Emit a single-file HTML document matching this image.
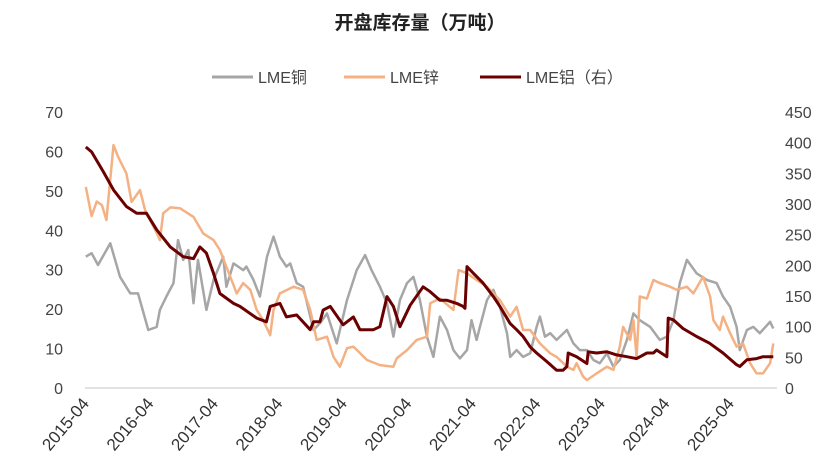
<!DOCTYPE html>
<html><head><meta charset="utf-8"><style>
body{margin:0;background:#fff;}
svg{display:block;font-family:"Liberation Sans","Noto Sans CJK SC",sans-serif;}
</style></head><body>
<svg id="chart" width="839" height="475" viewBox="0 0 839 475">
<text x="420" y="29" text-anchor="middle" font-size="19" font-weight="bold" fill="#222">开盘库存量（万吨）</text>
<g font-size="16" fill="#444">
<g><line x1="212" y1="77" x2="253" y2="77" stroke="#a6a6a6" stroke-width="3"/><text x="258" y="83">LME铜</text></g>
<g><line x1="344" y1="77" x2="385" y2="77" stroke="#f4b183" stroke-width="3"/><text x="390" y="83">LME锌</text></g>
<g><line x1="480" y1="77" x2="521" y2="77" stroke="#6b0000" stroke-width="3"/><text x="526" y="83">LME铝（右）</text></g>
</g>
<line x1="85" y1="388" x2="777" y2="388" stroke="#d9d9d9" stroke-width="1.5"/>
<g id="yl"></g>
<g id="yr"></g>
<g id="xl"></g>
<g id="series"></g>
</svg>
<script>
const leftTicks=[0,10,20,30,40,50,60,70];
const rightTicks=[0,50,100,150,200,250,300,350,400,450];
const xTickLabels=["2015-04","2016-04","2017-04","2018-04","2019-04","2020-04","2021-04","2022-04","2023-04","2024-04","2025-04"];
const xTickYears=[2015.25,2016.25,2017.25,2018.25,2019.25,2020.25,2021.25,2022.25,2023.25,2024.25,2025.25];

const copperT=[2015.20,2015.29,2015.39,2015.58,2015.73,2015.89,2016.01,2016.17,2016.30,2016.35,2016.45,2016.56,2016.63,2016.71,2016.79,2016.87,2016.94,2017.07,2017.18,2017.33,2017.38,2017.49,2017.64,2017.69,2017.80,2017.90,2018.01,2018.11,2018.21,2018.31,2018.37,2018.47,2018.57,2018.73,2018.83,2018.94,2019.09,2019.25,2019.40,2019.53,2019.63,2019.76,2019.87,2019.97,2020.07,2020.18,2020.28,2020.38,2020.49,2020.59,2020.69,2020.80,2020.90,2021.00,2021.11,2021.18,2021.26,2021.31,2021.42,2021.52,2021.62,2021.73,2021.78,2021.88,2021.98,2022.09,2022.19,2022.24,2022.32,2022.40,2022.50,2022.66,2022.76,2022.86,2022.97,2023.07,2023.17,2023.28,2023.38,2023.48,2023.59,2023.69,2023.79,2023.95,2024.10,2024.21,2024.31,2024.41,2024.52,2024.67,2024.83,2024.98,2025.08,2025.19,2025.29,2025.34,2025.45,2025.55,2025.65,2025.81,2025.86];
const copperV=[33.3,34.2,31.2,36.7,28.2,24.0,24.0,14.7,15.5,19.8,23.2,26.6,37.5,32.5,35.0,21.5,32.5,19.8,27.4,33.3,25.7,31.6,29.9,30.8,27.4,23.2,33.3,38.4,33.3,30.8,31.6,26.6,25.7,14.7,16.4,18.9,11.3,22.3,29.9,33.7,29.9,25.7,21.5,13.0,22.3,26.6,28.2,22.3,13.0,7.9,18.1,14.7,9.6,7.5,9.6,17.2,12.2,15.5,22.3,24.9,20.6,13.9,7.9,9.6,7.9,8.8,15.5,18.1,13.0,13.9,12.2,14.7,11.3,9.6,9.6,7.1,6.3,8.8,5.4,7.1,12.2,18.9,17.2,15.5,12.2,13.0,17.2,26.6,32.5,29.1,27.4,26.6,23.2,20.6,15.5,9.6,14.7,15.5,13.9,16.8,15.1];

const zincT=[2015.20,2015.29,2015.37,2015.45,2015.52,2015.63,2015.70,2015.83,2015.91,2016.04,2016.12,2016.30,2016.35,2016.40,2016.51,2016.66,2016.87,2017.02,2017.18,2017.28,2017.44,2017.54,2017.64,2017.75,2017.85,2017.95,2018.06,2018.11,2018.21,2018.42,2018.57,2018.68,2018.78,2018.94,2019.04,2019.14,2019.25,2019.35,2019.56,2019.76,2019.97,2020.02,2020.18,2020.33,2020.49,2020.54,2020.69,2020.90,2020.98,2021.11,2021.26,2021.42,2021.62,2021.78,2021.88,2021.98,2022.09,2022.24,2022.40,2022.50,2022.66,2022.76,2022.81,2022.91,2022.97,2023.12,2023.28,2023.38,2023.48,2023.53,2023.64,2023.69,2023.74,2023.79,2023.90,2024.00,2024.10,2024.26,2024.36,2024.52,2024.62,2024.77,2024.88,2024.93,2025.03,2025.08,2025.19,2025.29,2025.39,2025.50,2025.60,2025.70,2025.81,2025.86];
const zincV=[51.0,43.6,47.3,46.4,42.6,61.6,58.7,54.4,47.2,50.2,45.1,39.3,37.5,44.3,45.8,45.6,43.4,39.2,37.5,35.0,28.2,24.0,26.6,24.9,19.8,17.2,13.4,19.8,24.0,25.7,24.9,19.8,12.2,13.0,7.9,5.4,10.1,10.5,7.1,5.8,5.4,7.5,9.6,12.2,13.0,21.5,22.7,19.8,29.9,29.1,27.4,25.7,22.3,18.1,20.6,14.7,14.7,11.3,8.8,7.9,5.4,4.6,6.3,2.9,2.0,3.7,5.4,4.6,10.5,15.5,12.2,17.2,7.9,23.2,22.7,27.4,26.6,25.7,24.9,25.7,24.0,28.2,23.2,17.2,14.7,18.1,13.9,10.5,11.3,6.3,3.7,3.7,6.3,11.3];

const aluT=[2015.20,2015.29,2015.47,2015.63,2015.83,2015.99,2016.14,2016.30,2016.51,2016.71,2016.87,2016.97,2017.07,2017.18,2017.28,2017.49,2017.59,2017.85,2018.00,2018.06,2018.21,2018.31,2018.47,2018.68,2018.73,2018.83,2018.88,2018.99,2019.19,2019.35,2019.45,2019.66,2019.76,2019.87,2019.97,2020.07,2020.23,2020.43,2020.54,2020.69,2020.80,2020.95,2021.05,2021.08,2021.11,2021.21,2021.36,2021.52,2021.62,2021.78,2021.88,2021.98,2022.09,2022.19,2022.35,2022.50,2022.60,2022.66,2022.68,2022.81,2022.97,2022.99,2023.12,2023.28,2023.43,2023.59,2023.74,2023.90,2024.00,2024.05,2024.21,2024.23,2024.31,2024.46,2024.67,2024.87,2025.08,2025.29,2025.34,2025.45,2025.60,2025.70,2025.86];
const aluV=[393,385,353,323,296,285,285,258,230,214,211,230,220,187,154,138,133,114,108,133,138,116,119,95,108,108,127,133,103,116,95,95,100,149,133,100,135,165,157,143,143,138,133,130,198,187,171,149,133,105,95,84,67,57,43,29,29,35,57,51,40,59,57,59,54,51,48,57,57,62,51,114,111,97,84,73,57,38,35,46,48,51,51];

const X0=89, PX_PER_YEAR=64.5, Y0=388;
const xs=t=>X0+PX_PER_YEAR*(t-2015.25);
const yL=v=>Y0-v*(276/70);
const yR=v=>Y0-v*(276/450);
const NS="http://www.w3.org/2000/svg";

const gl=document.getElementById('yl');
leftTicks.forEach(v=>{const t=document.createElementNS(NS,'text');


t.setAttribute('x',63);t.setAttribute('y',yL(v)+6);t.setAttribute('text-anchor','end');t.setAttribute('font-size','16');t.setAttribute('fill','#444');t.textContent=v;gl.appendChild(t);});
const gr=document.getElementById('yr');
rightTicks.forEach(v=>{const t=document.createElementNS(NS,'text');


t.setAttribute('x',785);t.setAttribute('y',yR(v)+6);t.setAttribute('font-size','16');t.setAttribute('fill','#444');t.textContent=v;gr.appendChild(t);});
const gx=document.getElementById('xl');
xTickLabels.forEach((lab,i)=>{const x=xs(xTickYears[i])+1;const t=document.createElementNS(NS,'text');


t.setAttribute('x',x);t.setAttribute('y',404);t.setAttribute('text-anchor','end');t.setAttribute('font-size','17');t.setAttribute('fill','#333');
t.setAttribute('transform','rotate(-50 '+x+' 404)');t.textContent=lab;gx.appendChild(t);});

const gs=document.getElementById('series');
function line(T,V,yf,color,w,name){const p=document.createElementNS(NS,'polyline');


p.setAttribute('points',T.map((t,i)=>xs(t).toFixed(1)+','+yf(V[i]).toFixed(1)).join(' '));
p.setAttribute('fill','none');p.setAttribute('stroke',color);p.setAttribute('stroke-width',w);p.setAttribute('stroke-linejoin','round');gs.appendChild(p);}
line(copperT,copperV,yL,'#a6a6a6',2.5,'copper-line');
line(zincT,zincV,yL,'#f4b183',2.5,'zinc-line');
line(aluT,aluV,yR,'#6b0000',3,'aluminium-line');
</script>
</body></html>
